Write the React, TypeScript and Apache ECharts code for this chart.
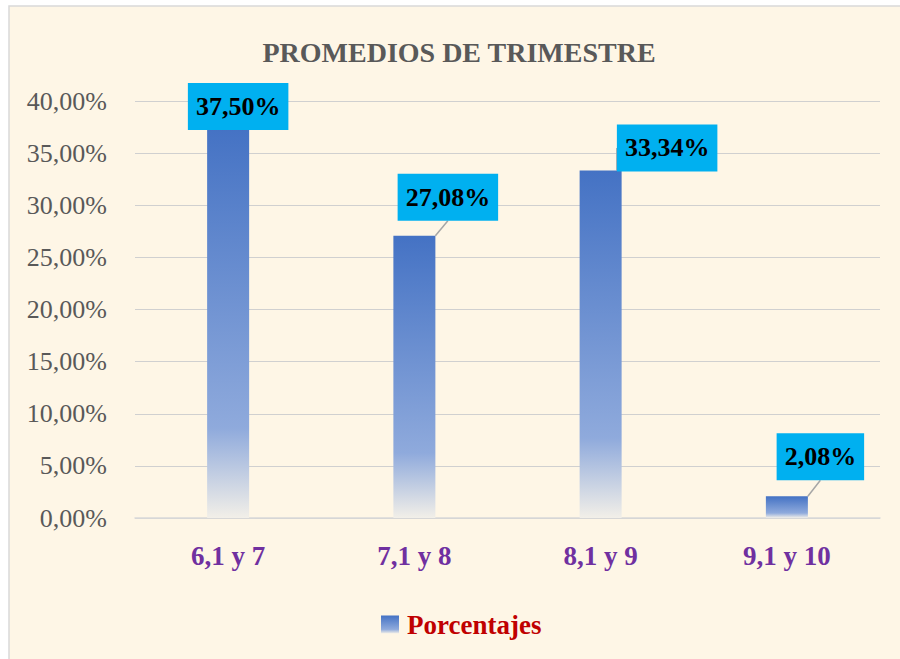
import React, { useEffect, useRef } from "react";
import * as echarts from "echarts";

const categories = ["6,1 y 7", "7,1 y 8", "8,1 y 9", "9,1 y 10"];
const porcentajes = [37.5, 27.08, 33.34, 2.08];
const seriesName = "Porcentajes";
const titleText = "PROMEDIOS DE TRIMESTRE";
// label box offsets (style only)
const labelOffsets = [
  [10, 3],
  [33.5, -15],
  [66.5, 1],
  [33.5, -16],
];

const FONT = "'Liberation Serif', 'Times New Roman', serif";
const fmt = (v: number) => v.toFixed(2).replace(".", ",") + "%";

export default function App() {
  const ref = useRef<HTMLDivElement>(null);
  useEffect(() => {
    if (!ref.current) return;
    const chart = echarts.init(ref.current, null, { renderer: "svg" });
    const grad = new echarts.graphic.LinearGradient(0, 0, 0, 1, [
      { offset: 0, color: "#4472C4" },
      { offset: 0.77, color: "#8FAADC" },
      { offset: 1, color: "#F2EFE8" },
    ]);
    chart.setOption({
      animation: false,
      backgroundColor: "#FFFFFF",
      graphic: [
        {
          type: "rect",
          z: -10,
          silent: true,
          shape: { x: 9, y: 6, width: 900, height: 700 },
          style: { fill: "#FEF6E6", stroke: "#D9D9D9", lineWidth: 1.5 },
        },
      ],
      title: {
        text: titleText,
        left: 454,
        textAlign: "center",
        top: 33,
        textStyle: {
          fontFamily: FONT,
          fontSize: 28,
          fontWeight: "bold",
          color: "#595959",
        },
      },
      legend: {
        data: [seriesName],
        left: 376,
        top: 606,
        icon: "rect",
        itemWidth: 18,
        itemHeight: 18,
        itemGap: 8,
        textStyle: {
          fontFamily: FONT,
          fontSize: 27,
          fontWeight: "bold",
          color: "#C00000",
          padding: [0, 0, 0, 3],
        },
      },
      grid: { left: 135, right: 20, top: 101, bottom: 141, containLabel: false },
      xAxis: {
        type: "category",
        data: categories,
        axisTick: { show: false },
        axisLine: { lineStyle: { color: "#D9D9D9", width: 1.5 } },
        axisLabel: {
          margin: 24,
          fontFamily: FONT,
          fontSize: 27,
          fontWeight: "bold",
          color: "#7030A0",
        },
      },
      yAxis: {
        type: "value",
        min: 0,
        max: 40,
        interval: 5,
        axisLine: { show: false },
        axisTick: { show: false },
        splitLine: { lineStyle: { color: "#D0D0D0", width: 1.2 } },
        axisLabel: {
          margin: 28,
          fontFamily: FONT,
          fontSize: 26,
          color: "#595959",
          formatter: (v: number) => fmt(v),
        },
      },
      series: [
        {
          name: seriesName,
          type: "bar",
          data: porcentajes,
          barWidth: 42,
          itemStyle: { color: grad },
          label: {
            show: true,
            position: "top",
            distance: 0,
            formatter: (p: any) => fmt(p.value),
            backgroundColor: "#00B0F0",
            padding: [10, 8],
            lineHeight: 27,
            fontFamily: FONT,
            fontSize: 26,
            fontWeight: "bold",
            color: "#000000",
          },
          labelLine: {
            show: true,
            lineStyle: { color: "#A6A6A6", width: 1.5 },
          },
          labelLayout: (params: any) => {
            const o = labelOffsets[params.dataIndex] || [0, 0];
            return { dx: o[0], dy: o[1] };
          },
        },
      ],
    });
    return () => chart.dispose();
  }, []);
  return (
    <div
      ref={ref}
      style={{ position: "absolute", left: 0, top: 0, width: 900, height: 659 }}
    />
  );
}
